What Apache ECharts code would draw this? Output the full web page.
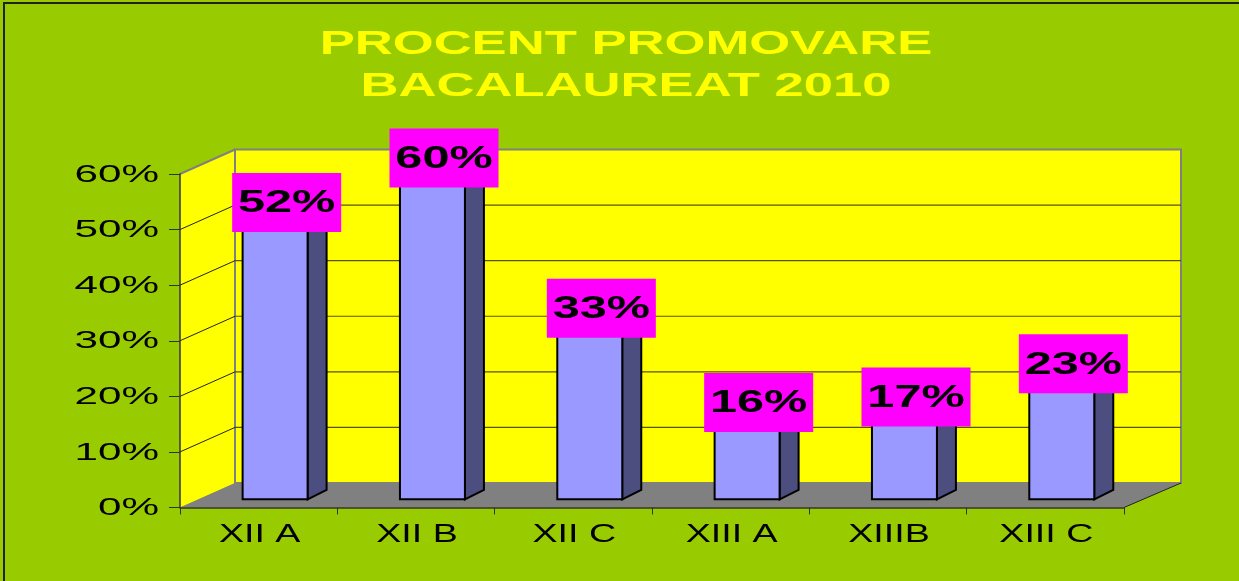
<!DOCTYPE html>
<html>
<head>
<meta charset="utf-8">
<script src="https://cdn.jsdelivr.net/npm/echarts@6/dist/echarts.min.js"></script>
<style>
  html, body { margin: 0; padding: 0; background: #99CC00; }
  #chart { width: 1239px; height: 581px; }
</style>
</head>
<body>
<div id="chart"></div>
<script>
// date
const categories = ['XII A', 'XII B', 'XII C', 'XIII A', 'XIIIB', 'XIII C'];
const values = [0.52, 0.60, 0.33, 0.16, 0.17, 0.23];
const valueLabels = ['52%', '60%', '33%', '16%', '17%', '23%'];
const yTicks = [0, 0.1, 0.2, 0.3, 0.4, 0.5, 0.6];
const yTickLabels = ['0%', '10%', '20%', '30%', '40%', '50%', '60%'];

const FONT = "'Liberation Sans', Arial, sans-serif";
const DX = 55, DY = -24.5;   // adancimea peretilor 3D

function renderWalls(params, api) {
    const cs = params.coordSys;
    const gx = cs.x, gy = cs.y, gw = cs.width, y0 = cs.y + cs.height;
    const bx = gx + DX, bw = gw + 2;
    const children = [
        { type: 'polygon', shape: { points: [[gx, gy], [bx, gy + DY], [bx, y0 + DY], [gx, y0]] }, style: { fill: '#FFFF00' } },
        { type: 'rect', shape: { x: bx, y: gy + DY, width: bw, height: cs.height }, style: { fill: '#FFFF00', stroke: '#808080', lineWidth: 2 } },
        { type: 'polygon', shape: { points: [[gx, y0], [bx, y0 + DY], [bx + bw, y0 + DY], [gx + gw, y0]] }, style: { fill: '#808080' } },
        { type: 'line', shape: { x1: gx, y1: gy, x2: bx, y2: gy + DY }, style: { stroke: '#808080', lineWidth: 2 } },
        { type: 'line', shape: { x1: gx + gw, y1: y0, x2: bx + bw, y2: y0 + DY }, style: { stroke: '#222', lineWidth: 1 } }
    ];
    yTicks.forEach(function (t) {
        if (t <= 0 || t >= 0.6) return;
        const y = api.coord([0, t])[1];
        children.push({ type: 'line', shape: { x1: bx, y1: y + DY, x2: bx + bw, y2: y + DY }, style: { stroke: '#555500', lineWidth: 1.2 } });
        children.push({ type: 'line', shape: { x1: gx, y1: y, x2: bx, y2: y + DY }, style: { stroke: '#222', lineWidth: 1 } });
    });
    return { type: 'group', children: children };
}

function renderBar(params, api) {
    const i = api.value(0);
    const p0 = api.coord([i, 0]);
    const p1 = api.coord([i, api.value(1)]);
    const band = api.size([1, 0])[0];
    const w = band * 0.413;
    const sx = 19, sy = -9.5;
    const x0 = p0[0] - band * 0.102;
    const x1 = x0 + w;
    const yb = p0[1] - 8.2;
    const yt = p1[1] - 8.2;
    const lcx = p0[0] + 28;
    const lcy = yt + sy / 2 - 3;
    return {
        type: 'group',
        children: [
            { type: 'polygon', shape: { points: [[x1, yb], [x1 + sx, yb + sy], [x1 + sx, yt + sy], [x1, yt]] }, style: { fill: '#4C4E80', stroke: '#000', lineWidth: 2 } },
            { type: 'polygon', shape: { points: [[x0, yt], [x1, yt], [x1 + sx, yt + sy], [x0 + sx, yt + sy]] }, style: { fill: '#B3B3FF', stroke: '#000', lineWidth: 2 } },
            { type: 'rect', shape: { x: x0, y: yt, width: w, height: yb - yt }, style: { fill: '#9999FF', stroke: '#000', lineWidth: 2 } },
            { type: 'rect', shape: { x: lcx - 54.5, y: lcy - 29.5, width: 109, height: 59 }, style: { fill: '#FF00FF' } },
            {
                type: 'text', x: lcx, y: lcy + 1, scaleX: 1.52,
                style: { text: valueLabels[i], fill: '#000', fontSize: 32, fontWeight: 'bold', fontFamily: FONT, align: 'center', verticalAlign: 'middle' }
            }
        ]
    };
}

function renderYLabel(params, api) {
    const idx = params.dataIndex;
    const p = api.coord([0, api.value(1)]);
    return {
        type: 'text', x: params.coordSys.x - 21, y: p[1] + 1, scaleX: 1.76,
        style: { text: yTickLabels[idx], fill: '#000', fontSize: 24, fontFamily: FONT, align: 'right', verticalAlign: 'middle' }
    };
}

function renderXLabel(params, api) {
    const i = api.value(0);
    const p = api.coord([i, 0]);
    return {
        type: 'text', x: p[0] + 1, y: p[1] + 27, scaleX: 1.42,
        style: { text: categories[i], fill: '#000', fontSize: 26.5, fontFamily: FONT, align: 'center', verticalAlign: 'middle' }
    };
}

const chart = echarts.init(document.getElementById('chart'));
const option = {
    backgroundColor: '#99CC00',
    animation: false,
    graphic: [
        { type: 'rect', shape: { x: 4, y: 3, width: 1400, height: 800 }, style: { fill: 'none', stroke: '#222', lineWidth: 2 }, z: 100 },
        {
            type: 'text', x: 626, y: 66, scaleX: 1.57,
            style: { text: 'PROCENT PROMOVARE\nBACALAUREAT 2010', fill: '#FFFF00', fontSize: 33.5, fontWeight: 'bold', fontFamily: FONT, lineHeight: 42.3, align: 'center', verticalAlign: 'middle' }
        }
    ],
    grid: { left: 180, right: 115, top: 174, bottom: 73.5 },
    xAxis: {
        type: 'category',
        data: categories,
        z: 5,
        axisLine: { show: true, lineStyle: { color: '#333', width: 1.5 } },
        axisTick: { show: true, length: 7, lineStyle: { color: '#333' } },
        axisLabel: { show: false }
    },
    yAxis: {
        type: 'value',
        min: 0,
        max: 0.6,
        interval: 0.1,
        z: 5,
        axisLine: { show: true, lineStyle: { color: '#333', width: 1.5 } },
        axisTick: { show: true, length: 11, lineStyle: { color: '#333' } },
        axisLabel: { show: false },
        splitLine: { show: false }
    },
    series: [
        { type: 'custom', name: 'walls', z: 1, silent: true, renderItem: renderWalls, data: [[0, 0]] },
        { type: 'custom', name: 'Procent', z: 3, renderItem: renderBar, data: values.map(function (v, i) { return [i, v]; }) },
        { type: 'custom', name: 'yLabels', z: 3, silent: true, renderItem: renderYLabel, data: yTicks.map(function (t) { return [0, t]; }) },
        { type: 'custom', name: 'xLabels', z: 3, silent: true, renderItem: renderXLabel, data: categories.map(function (c, i) { return [i, 0]; }) }
    ]
};
chart.setOption(option);
</script>
</body>
</html>
